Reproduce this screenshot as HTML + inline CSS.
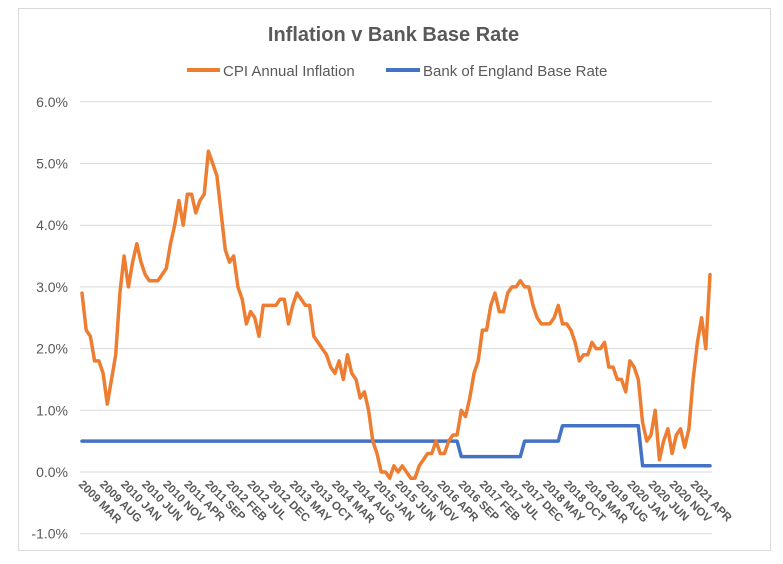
<!DOCTYPE html>
<html><head><meta charset="utf-8"><style>
html,body{margin:0;padding:0;background:#fff;}
svg{display:block;font-family:"Liberation Sans",Arial,sans-serif;}
</style></head><body>
<svg id="c" width="783" height="564" xmlns="http://www.w3.org/2000/svg">
<rect x="0" y="0" width="783" height="564" fill="#fff"/>
<rect x="18.5" y="8.5" width="752" height="542" fill="#fff" stroke="#d9d9d9" stroke-width="1"/>
<text x="393.5" y="41" text-anchor="middle" font-size="20" font-weight="bold" fill="#595959">Inflation v Bank Base Rate</text>
<line x1="187" y1="70" x2="220" y2="70" stroke="#ED7D31" stroke-width="4"/>
<text x="223" y="76" font-size="15" fill="#595959">CPI Annual Inflation</text>
<line x1="386" y1="70" x2="420" y2="70" stroke="#4472C4" stroke-width="4"/>
<text x="423" y="76" font-size="15" fill="#595959">Bank of England Base Rate</text>
<g id="g"></g>
</svg>
<script>
var g=document.getElementById('g'),h='';
function Y(v){return 472-v*61.7;}
for(var i=-1;i<=6;i++){var y=Y(i);
h+='<line x1="80" x2="712" y1="'+y+'" y2="'+y+'" stroke="#d9d9d9" stroke-width="1"/>';
h+='<text x="68" y="'+(y+5)+'" text-anchor="end" font-size="14" fill="#595959">'+i.toFixed(1)+'%</text>';}
var cpi=[2.9,2.3,2.2,1.8,1.8,1.6,1.1,1.5,1.9,2.9,
3.5,3.0,3.4,3.7,3.4,3.2,3.1,3.1,3.1,3.2,3.3,3.7,
4.0,4.4,4.0,4.5,4.5,4.2,4.4,4.5,5.2,5.0,4.8,4.2,
3.6,3.4,3.5,3.0,2.8,2.4,2.6,2.5,2.2,2.7,2.7,2.7,
2.7,2.8,2.8,2.4,2.7,2.9,2.8,2.7,2.7,2.2,2.1,2.0,
1.9,1.7,1.6,1.8,1.5,1.9,1.6,1.5,1.2,1.3,1.0,0.5,
0.3,0.0,0.0,-0.1,0.1,0.0,0.1,0.0,-0.1,-0.1,0.1,0.2,
0.3,0.3,0.5,0.3,0.3,0.5,0.6,0.6,1.0,0.9,1.2,1.6,
1.8,2.3,2.3,2.7,2.9,2.6,2.6,2.9,3.0,3.0,3.1,3.0,
3.0,2.7,2.5,2.4,2.4,2.4,2.5,2.7,2.4,2.4,2.3,2.1,
1.8,1.9,1.9,2.1,2.0,2.0,2.1,1.7,1.7,1.5,1.5,1.3,
1.8,1.7,1.5,0.8,0.5,0.6,1.0,0.2,0.5,0.7,0.3,0.6,
0.7,0.4,0.7,1.5,2.1,2.5,2.0,3.2];
var n=cpi.length,dx=628/(n-1);
function X(i){return 82+i*dx;}
var br=[];for(var i=0;i<n;i++){br.push(i<=89?0.5:i<=104?0.25:i<=113?0.5:i<=132?0.75:0.1);}
function pl(a,c){var p=a.map(function(v,i){return X(i).toFixed(1)+','+Y(v).toFixed(1)}).join(' ');
return '<polyline points="'+p+'" fill="none" stroke="'+c+'" stroke-width="3.5" stroke-linejoin="round" stroke-linecap="round"/>';}
h+=pl(br,'#4472C4');h+=pl(cpi,'#ED7D31');
var M=['JAN','FEB','MAR','APR','MAY','JUN','JUL','AUG','SEP','OCT','NOV','DEC'];
for(var k=0;k<30;k++){var m=2+k*5,yr=2009+Math.floor(m/12),lab=yr+' '+M[m%12];
var x=82+k*21.1-4,y=485;
h+='<text transform="translate('+x.toFixed(1)+','+y+') rotate(45)" font-size="11.5" font-weight="bold" fill="#595959">'+lab+'</text>';}
g.innerHTML=h;
</script>
</body></html>
